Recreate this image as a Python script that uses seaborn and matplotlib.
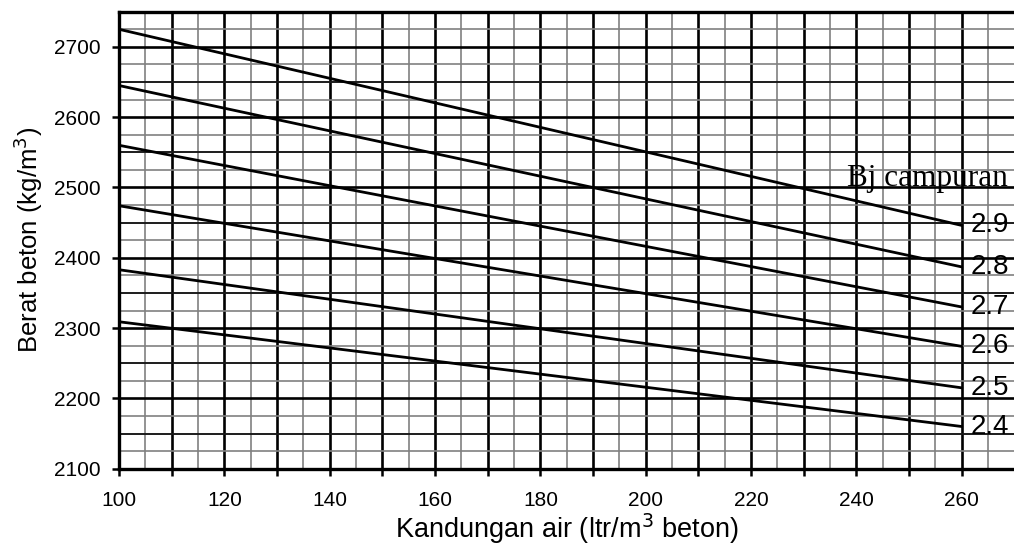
import numpy as np
import pandas as pd
import matplotlib
matplotlib.use("Agg")
import matplotlib.pyplot as plt
import seaborn as sns
from matplotlib.ticker import MultipleLocator, FuncFormatter

# ---- data ----
bj_labels = ["2.9", "2.8", "2.7", "2.6", "2.5", "2.4"]
water = [100, 260]
weight_start = [2725, 2645, 2560, 2474, 2383, 2309]
weight_end = [2446, 2387, 2330, 2274, 2215, 2160]

rows = []
for lab, y0, y1 in zip(bj_labels, weight_start, weight_end):
    rows.append({"air": water[0], "berat": y0, "bj": lab})
    rows.append({"air": water[1], "berat": y1, "bj": lab})
df = pd.DataFrame(rows)

sns.set_theme(style="white")
plt.rcParams["font.family"] = ["Liberation Sans", "DejaVu Sans"]

fig = plt.figure(figsize=(10.14, 5.49), dpi=100)
ax = fig.add_axes([119 / 1014, (549 - 468.7) / 549, (1014.5 - 119) / 1014, (468.7 - 11.7) / 549])

ax.set_xlim(100, 270)
ax.set_ylim(2100, 2750)

# grid
ax.xaxis.set_major_locator(MultipleLocator(10))
ax.xaxis.set_minor_locator(MultipleLocator(5))
ax.yaxis.set_major_locator(MultipleLocator(100))
ax.yaxis.set_minor_locator(MultipleLocator(25))
ax.grid(which="major", color="black", linewidth=1.9, zorder=1)
ax.grid(which="minor", color="#808080", linewidth=1.2, zorder=1)
for yv in np.arange(2150, 2750, 100):
    ax.axhline(yv, color="black", linewidth=1.1, zorder=1.5)
ax.set_axisbelow(True)

sns.lineplot(data=df, x="air", y="berat", hue="bj", palette=["black"] * len(bj_labels),
             legend=False, linewidth=2.0, ax=ax, zorder=3)

ax.xaxis.set_major_formatter(FuncFormatter(lambda v, p: f"{int(round(v))}" if int(round(v)) % 20 == 0 and v <= 260 else ""))
ax.tick_params(axis="both", which="major", direction="out", length=5, width=1.8, color="black",
               labelsize=15, labelcolor="black")
ax.tick_params(axis="x", pad=11)
ax.tick_params(axis="y", pad=8)
ax.tick_params(which="minor", length=0)
ax.xaxis.set_ticks_position("bottom")
ax.yaxis.set_ticks_position("left")

for side in ["left", "bottom", "top"]:
    ax.spines[side].set_visible(True)
    ax.spines[side].set_color("black")
    ax.spines[side].set_linewidth(2.4)
ax.spines["right"].set_visible(False)

ax.set_xlabel("Kandungan air (ltr/m$^3$ beton)", fontsize=19.5, color="black", labelpad=1)
ax.set_ylabel("Berat beton (kg/m$^3$)", fontsize=18.5, color="black", labelpad=7)

for lab, y1 in zip(bj_labels, weight_end):
    ax.text(water[1] + 1.7, y1, lab, fontsize=20, ha="left", va="center", color="black", zorder=4)

ax.text(268.8, 2502, "Bj campuran", fontsize=22.5, ha="right", va="baseline", color="black",
        family=["Liberation Serif", "DejaVu Serif"], zorder=4)

fig.savefig("out.png", dpi=100)
